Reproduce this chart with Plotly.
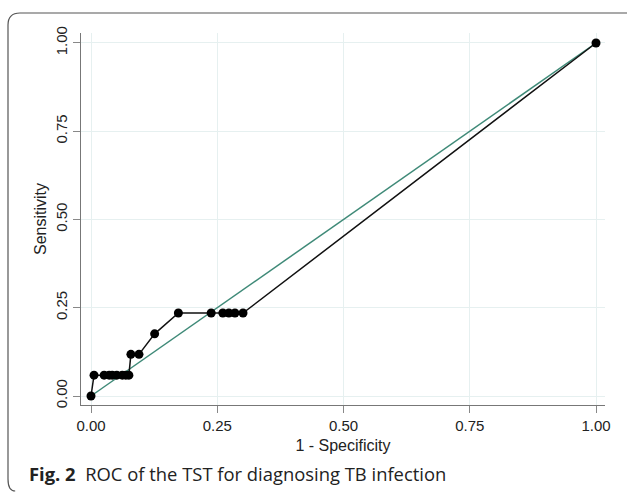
import plotly.graph_objects as go

# ROC points (1 - specificity, sensitivity)
fpr = [0.0, 0.006, 0.026, 0.036, 0.042, 0.051, 0.062, 0.069, 0.075,
       0.079, 0.095, 0.126, 0.173, 0.238, 0.261, 0.273, 0.285, 0.301, 1.0]
tpr = [0.0, 0.059, 0.059, 0.059, 0.059, 0.059, 0.059, 0.059, 0.059,
       0.118, 0.118, 0.176, 0.235, 0.235, 0.235, 0.235, 0.235, 0.235, 1.0]
ref_x = [0.0, 1.0]
ref_y = [0.0, 1.0]
tick_vals = [0.0, 0.25, 0.5, 0.75, 1.0]
tick_text = ["0.00", "0.25", "0.50", "0.75", "1.00"]

fig = go.Figure()
fig.add_trace(go.Scatter(x=ref_x, y=ref_y, mode="lines",
                         line=dict(color="#3f8a78", width=1.5),
                         showlegend=False, hoverinfo="skip"))
fig.add_trace(go.Scatter(x=fpr, y=tpr, mode="lines+markers",
                         line=dict(color="#111111", width=1.5),
                         marker=dict(color="#000000", size=9),
                         showlegend=False))

L, R, T, B = 81, 22, 33, 89
W, H = 627, 494
pw, ph = W - L - R, H - T - B

def px(x):
    return (x - L) / pw

def py(y):
    return (H - B - y) / ph

axis_font = dict(family="Liberation Sans, Arial, sans-serif", size=15, color="#222222")
title_font = dict(family="Liberation Sans, Arial, sans-serif", size=16, color="#222222")

fig.update_layout(
    width=W, height=H,
    margin=dict(l=L, r=R, t=T, b=B),
    paper_bgcolor="white", plot_bgcolor="white",
    xaxis=dict(range=[-0.0198, 1.0178], tickvals=tick_vals, ticktext=tick_text,
               showgrid=True, gridcolor="#e6f0f0", gridwidth=1, zeroline=False,
               showline=True, linecolor="#777777", linewidth=1,
               ticks="outside", ticklen=7, tickcolor="#888888",
               tickfont=axis_font, automargin=False,
               title=dict(text="1 - Specificity", font=title_font, standoff=6)),
    yaxis=dict(range=[-0.0255, 1.0283], tickvals=tick_vals, ticktext=tick_text,
               showgrid=True, gridcolor="#e6f0f0", gridwidth=1, zeroline=False,
               showline=True, linecolor="#777777", linewidth=1,
               ticks="outside", ticklen=7, tickcolor="#888888",
               tickangle=-90, tickfont=axis_font, automargin=False,
               title=dict(text="Sensitivity", font=title_font, standoff=2)),
)

# rounded outer frame
x0, x1 = px(8), px(640)
yt, yb = py(13), py(491)
rx, ry = 12 / pw, 12 / ph
path = (f"M {x0},{yb + ry} L {x0},{yt - ry} Q {x0},{yt} {x0 + rx},{yt} L {x1},{yt}")
fig.add_shape(type="path", path=path, xref="paper", yref="paper",
              line=dict(color="#555555", width=1.2))
path2 = f"M {x0},{yb + ry} Q {x0},{yb} {x0 + rx*0.6},{yb}"
fig.add_shape(type="path", path=path2, xref="paper", yref="paper",
              line=dict(color="#555555", width=1.2))

fig.add_annotation(x=px(27), y=py(473), xref="paper", yref="paper",
                   xanchor="left", yanchor="middle", showarrow=False,
                   text="<b>Fig. 2</b>  ROC of the TST for diagnosing TB infection",
                   font=dict(family="Open Sans, Noto Sans, sans-serif", size=18.4, color="#222222"))

fig.write_html("out.html", config={"displayModeBar": False},
               post_script="document.body.style.margin='0px';")
